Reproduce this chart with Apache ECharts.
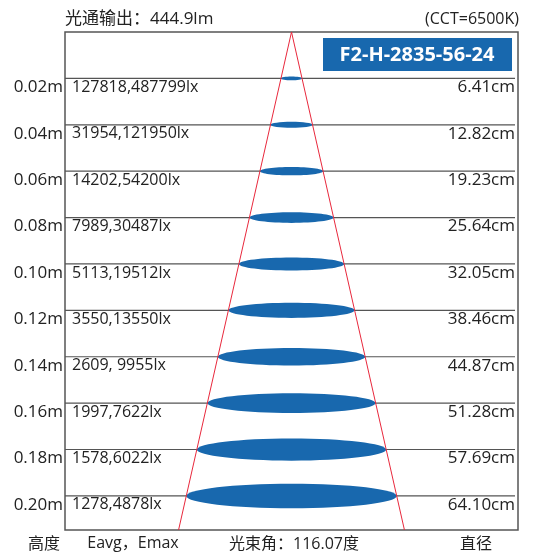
<!DOCTYPE html>
<html>
<head>
<meta charset="utf-8">
<script src="https://cdn.jsdelivr.net/npm/echarts@6/dist/echarts.min.js"></script>
<style>
html,body{margin:0;padding:0;background:#fff;}
#c{width:533px;height:553px;}
</style>
</head>
<body>
<div id="c"></div>
<script>
// ---- data ----
const heights = [0.02, 0.04, 0.06, 0.08, 0.10, 0.12, 0.14, 0.16, 0.18, 0.20];
const heightLabels = ['0.02m','0.04m','0.06m','0.08m','0.10m','0.12m','0.14m','0.16m','0.18m','0.20m'];
const eavg = [127818, 31954, 14202, 7989, 5113, 3550, 2609, 1997, 1578, 1278];
const emax = [487799, 121950, 54200, 30487, 19512, 13550, 9955, 7622, 6022, 4878];
const luxLabels = ['127818,487799lx','31954,121950lx','14202,54200lx','7989,30487lx','5113,19512lx',
                   '3550,13550lx','2609, 9955lx','1997,7622lx','1578,6022lx','1278,4878lx'];
const diameters = [6.41, 12.82, 19.23, 25.64, 32.05, 38.46, 44.87, 51.28, 57.69, 64.10];
const beamAngle = 116.07;
const luminousFlux = '444.9lm';
const cct = '(CCT=6500K)';
const model = 'F2-H-2835-56-24';

// ---- axes range ----
const xMin = -69, xMax = 69;
const yMax = 0.2147;
const FONT = "'Open Sans','Noto Sans CJK SC',sans-serif";

const rows = heights.map((h, i) => [h, diameters[i], i]);
const halfTan = Math.tan(beamAngle / 2 * Math.PI / 180);
const rBottom = yMax * halfTan * 100; // cm
const coneData = [[-rBottom, yMax], [0, 0], [rBottom, yMax]];

function txt(x, y, text, size, align, weight, fill) {
  return { type: 'text', x: x, y: y, style: { text: text, font: (weight || 'normal') + ' ' + size + 'px ' + FONT, fill: fill || '#222', align: align || 'center', verticalAlign: 'middle' } };
}

const chart = echarts.init(document.getElementById('c'));
chart.setOption({
  animation: false,
  backgroundColor: '#fff',
  grid: { left: 65, right: 15, top: 32, bottom: 23, show: true, borderColor: '#555', borderWidth: 1.5, backgroundColor: 'transparent' },
  xAxis: { type: 'value', min: xMin, max: xMax, show: false },
  yAxis: { type: 'value', min: 0, max: yMax, inverse: true, show: false },
  graphic: [
    txt(65, 19, '光通输出：' + luminousFlux, 17, 'left'),
    txt(519, 19, cct, 16, 'right'),
    { type: 'rect', x: 323, y: 38, shape: { width: 189, height: 33 }, style: { fill: '#1868ae' } },
    txt(417, 55, model, 20, 'center', 'bold', '#fff'),
    txt(44, 544, '高度', 16),
    txt(133, 543, 'Eavg，Emax', 16),
    txt(294, 544, '光束角：' + beamAngle.toFixed(2) + '度', 16),
    txt(476, 544, '直径', 16)
  ],
  series: [
    {
      type: 'custom',
      data: rows,
      z: 2,
      clip: false,
      renderItem: function (params, api) {
        const h = api.value(0), d = api.value(1), i = api.value(2);
        const pL = api.coord([xMin, h]);
        const pR = api.coord([xMax, h]);
        const c = api.coord([0, h]);
        const e = api.coord([d / 2, h]);
        const rx = e[0] - c[0];
        const ry = rx * 0.11 + 0.7;
        return {
          type: 'group',
          children: [
            { type: 'line', shape: { x1: pL[0], y1: pL[1], x2: pR[0] - 3, y2: pR[1] }, style: { stroke: '#555', lineWidth: 1.2 } },
            { type: 'ellipse', shape: { cx: c[0], cy: c[1], rx: rx, ry: ry }, style: { fill: '#1868ae' } },
            { type: 'text', style: { text: heightLabels[i], x: pL[0] - 2, y: pL[1] + 9, align: 'right', verticalAlign: 'middle', font: "17px " + FONT, fill: '#222' } },
            { type: 'text', style: { text: luxLabels[i], x: pL[0] + 7, y: pL[1] + 9, align: 'left', verticalAlign: 'middle', font: "16px " + FONT, fill: '#222' } },
            { type: 'text', style: { text: d.toFixed(2) + 'cm', x: pR[0] - 3, y: pR[1] + 9, align: 'right', verticalAlign: 'middle', font: "17px " + FONT, fill: '#222' } }
          ]
        };
      }
    },
    {
      type: 'line',
      data: coneData,
      z: 3,
      symbol: 'none',
      silent: true,
      lineStyle: { color: '#e8283c', width: 1 }
    }
  ]
});
</script>
</body>
</html>
